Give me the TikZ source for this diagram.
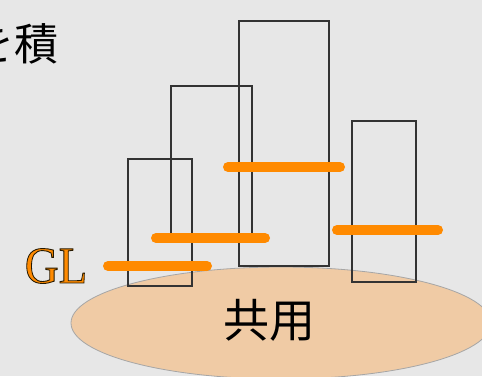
\documentclass[tikz,border=0pt]{standalone}
\usepackage{fontspec}
\setmainfont{Liberation Serif}
\newfontfamily\jpfont{Noto Sans CJK JP}
\definecolor{slidegray}{HTML}{E7E7E7}
\definecolor{glorange}{HTML}{FF8A00}
\definecolor{peach}{HTML}{F0CBA5}
\newcommand\outlined[1]{\special{pdf:literal direct 2 Tr 0.9 w 0.15 0.1 0 RG}#1\special{pdf:literal direct 0 Tr}}

\begin{document}
\begin{tikzpicture}[x=1pt,y=-1pt,
    tower/.style={draw=black!80,line width=1.1pt},
    floor line/.style={draw=glorange,line width=10pt,line cap=round}]

  \fill[slidegray] (0,0) rectangle (482,376);
  \useasboundingbox (0,0) rectangle (482,376);
  \clip (0,0) rectangle (482,376);

  % shared base
  \draw[fill=peach,draw=black!35,line width=0.8pt] (281,323) ellipse [x radius=210,y radius=56];
  \node[font=\jpfont\fontsize{46}{46}\selectfont] (base) at (269,320) {共用};

  % buildings
  \draw[tower] (128,159) rectangle (192,286);
  \draw[tower] (171,86) rectangle (252,238);
  \draw[tower] (239,21) rectangle (329,266);
  \draw[tower] (352,121) rectangle (416,282);

  % ground levels
  \draw[floor line] (108,266) -- (207,266);
  \draw[floor line] (156,238) -- (265,238);
  \draw[floor line] (228,167) -- (340,167);
  \draw[floor line] (337,230) -- (438,230);

  \node[text=glorange,font=\fontsize{52}{52}\selectfont,xscale=0.9] (gl) at (56,266) {\outlined{GL}};
  \node[anchor=east,font=\jpfont\fontsize{44}{44}\selectfont] (title) at (62,44) {を積};

\end{tikzpicture}
\end{document}
